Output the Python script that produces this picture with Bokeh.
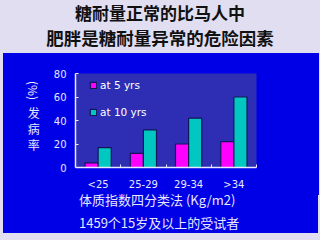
from bokeh.plotting import figure
from bokeh.models import (Range1d, FixedTicker, Legend, LegendItem, Div,
                          ColumnDataSource)
from bokeh.layouts import column, row
from bokeh.embed import file_html
from bokeh.resources import INLINE

# Data: diabetes incidence (%) by BMI quartile
categories = ["<25", "25-29", "29-34", ">34"]
at_5_yrs = [4, 12, 20, 22]
at_10_yrs = [17, 32, 42, 60]
series_names = ["at 5 yrs", "at 10 yrs"]
y_ticks = [0, 20, 40, 60, 80]

title_lines = ["糖耐量正常的比马人中", "肥胖是糖耐量异常的危险因素"]
y_unit = "(%)"
y_title = "发病率"
x_title = "体质指数四分类法 (Kg/m2)"
footnote = "1459个15岁及以上的受试者"

BG = "#e2def2"
PANEL = "#0000e6"
FRAME = "#2e2eb4"
MAGENTA = "#ff00ff"
TEAL = "#00c8c0"
EDGE = "#14145a"
TXT = "#e8e8ff"
CJK = "Noto Sans CJK SC"

FIG_TOP, FIG_BOTTOM = 20, 28       # borders around the 94px tall chart area
FIG_H = FIG_TOP + 94 + FIG_BOTTOM

# heading on the light band, one absolutely placed line each
head_css = (f"position:absolute;left:0;width:320px;text-align:center;"
            f"font-family:'{CJK}';font-weight:bold;color:#111111;")
title_div = Div(
    text=(f"<div style=\"{head_css}top:1px;font-size:17px;line-height:24px\">"
          f"{title_lines[0]}</div>"
          f"<div style=\"{head_css}top:25px;font-size:17.5px;line-height:25px\">"
          f"{title_lines[1]}</div>"),
    width=320, height=53, margin=0, styles={"background-color": BG})

# vertical y caption: the unit turns sideways, the CJK word stays upright
cap_css = (f"position:absolute;writing-mode:vertical-rl;font-family:'{CJK}';"
           f"font-size:12px;color:{TXT};")
ylab_div = Div(
    text=(f"<div style=\"{cap_css}left:22px;top:28px\">{y_unit}</div>"
          f"<div style=\"{cap_css}left:22px;top:54px;letter-spacing:4px\">"
          f"{y_title}</div>"),
    width=47, height=FIG_H, margin=0, styles={"background-color": PANEL})

p = figure(frame_width=181, frame_height=94, output_backend="svg",
           toolbar_location=None,
           x_range=Range1d(0, len(categories)), y_range=Range1d(0, 80),
           min_border_left=24, min_border_right=63,
           min_border_top=FIG_TOP, min_border_bottom=FIG_BOTTOM, margin=0)
p.border_fill_color = PANEL
p.background_fill_color = FRAME
p.outline_line_color = None
p.grid.visible = False

centers = [i + 0.5 for i in range(len(categories))]
bw = 0.29
src = ColumnDataSource(dict(
    x5=[c - bw / 2 for c in centers], x10=[c + bw / 2 for c in centers],
    y5=at_5_yrs, y10=at_10_yrs))
r5 = p.vbar(x="x5", top="y5", width=bw, source=src, fill_color=MAGENTA,
            line_color=EDGE, line_width=1.2)
r10 = p.vbar(x="x10", top="y10", width=bw, source=src, fill_color=TEAL,
             line_color=EDGE, line_width=1.2)

legend = Legend(items=[LegendItem(label=series_names[0], renderers=[r5]),
                       LegendItem(label=series_names[1], renderers=[r10])],
                location=(14, 49), orientation="vertical")
legend.background_fill_alpha = 0
legend.border_line_color = None
legend.padding = 0
legend.margin = 0
legend.glyph_width = 8
legend.glyph_height = 8
legend.label_height = 8
legend.spacing = 15
legend.label_standoff = 3
legend.label_text_color = "white"
legend.label_text_font = "DejaVu Sans"
legend.label_text_font_size = "10.5px"
p.add_layout(legend)

# axes
xa = p.xaxis[0]
xa.ticker = FixedTicker(ticks=centers, minor_ticks=[1, 2, 3, 4])
xa.major_label_overrides = {c: name for c, name in zip(centers, categories)}
xa.major_tick_line_color = None
xa.minor_tick_in = 3
xa.minor_tick_out = 0
xa.minor_tick_line_color = TXT
xa.axis_line_color = TXT
xa.axis_line_width = 1.5
xa.major_label_standoff = 5
xa.major_label_text_color = TXT
xa.major_label_text_font = "DejaVu Sans"
xa.major_label_text_font_size = "10px"

ya = p.yaxis[0]
ya.ticker = FixedTicker(ticks=y_ticks)
ya.minor_tick_line_color = None
ya.major_tick_in = 3
ya.major_tick_out = 0
ya.major_tick_line_color = TXT
ya.axis_line_color = TXT
ya.axis_line_width = 1.5
ya.major_label_standoff = 9
ya.major_label_text_color = TXT
ya.major_label_text_font = "DejaVu Sans"
ya.major_label_text_font_size = "10px"

# x caption and subject count under the chart
low_css = (f"position:absolute;left:76px;white-space:nowrap;font-family:'{CJK}';"
           f"font-size:13px;line-height:18px;color:{TXT};")
cap_div = Div(
    text=(f"<div style=\"{low_css}top:-4px\">{x_title}</div>"
          f"<div style=\"{low_css}top:19px\">{footnote}</div>"),
    width=315, height=233 - 53 - FIG_H, margin=(0, 2, 0, 3),
    styles={"background-color": PANEL, "overflow": "visible"})

mid = row(ylab_div, p, margin=(0, 2, 0, 3), spacing=0,
          styles={"background-color": PANEL})
layout = column(title_div, mid, cap_div, width=320, height=240, margin=0,
                spacing=0, styles={"background-color": BG})

open("out.html", "w").write(file_html(layout, INLINE))
